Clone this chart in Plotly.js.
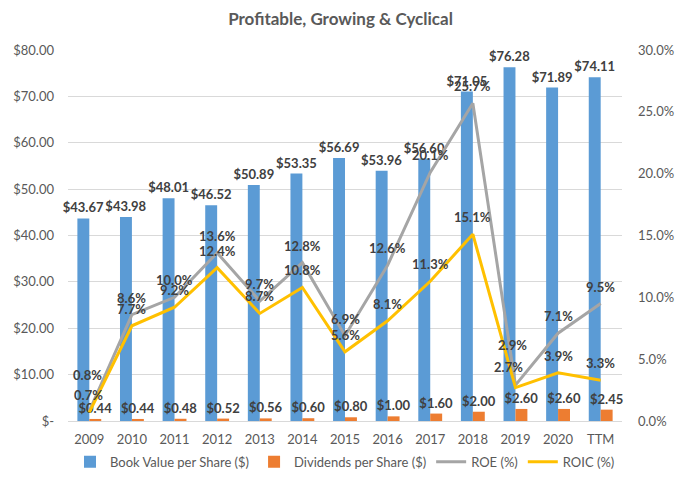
<!DOCTYPE html>
<html>
<head>
<meta charset="utf-8">
<script src="https://cdn.plot.ly/plotly-3.0.1.min.js"></script>
<style>html,body{margin:0;padding:0;background:#fff;}#chart{width:681px;height:492px;}</style>
</head>
<body>
<div id="chart"></div>
<script>
const categories = ['2009','2010','2011','2012','2013','2014','2015','2016','2017','2018','2019','2020','TTM'];
const bookValue = [43.67, 43.98, 48.01, 46.52, 50.89, 53.35, 56.69, 53.96, 56.60, 71.05, 76.28, 71.89, 74.11];
const dividends = [0.44, 0.44, 0.48, 0.52, 0.56, 0.60, 0.80, 1.00, 1.60, 2.00, 2.60, 2.60, 2.45];
const roe = [0.8, 8.6, 10.0, 13.6, 9.7, 12.8, 6.9, 12.6, 20.1, 25.7, 2.9, 7.1, 9.5];
const roic = [0.7, 7.7, 9.2, 12.4, 8.7, 10.8, 5.6, 8.1, 11.3, 15.1, 2.7, 3.9, 3.3];
const leftTicks = [0,10,20,30,40,50,60,70,80];
const leftTickText = ['$-','$10.00','$20.00','$30.00','$40.00','$50.00','$60.00','$70.00','$80.00'];
const rightTicks = [0,5,10,15,20,25,30];
const rightTickText = ['0.0%','5.0%','10.0%','15.0%','20.0%','25.0%','30.0%'];

// label placement offsets (pixels) for line data labels
const roeLabelDy = [36,17,17,17,17,17,17,17,17,17,40,17,17];
const roeLabelDx = [-2,0,0,0,0,0,0,0,0,0,-3,0,0];
const roicLabelDy = [17,17,17,17,17,17,17,17,17,17,21,17,17];
const roicLabelDx = [-1,0,0,0,0,0,0,0,0,0,-7,0,0];

const FONT = 'Lato, "Open Sans", sans-serif';
const labelFont = {family: FONT, size: 13, color: '#404040'};

const traces = [
  {type:'bar', name:'Book Value per Share ($)', x:categories, y:bookValue,
   marker:{color:'#5B9BD5'}, texttemplate:'<b>$%{y:.2f}</b>', textposition:'outside',
   constraintext:'none', cliponaxis:false, textfont:labelFont, hoverinfo:'skip'},
  {type:'bar', name:'Dividends per Share ($)', x:categories, y:dividends,
   marker:{color:'#ED7D31'}, texttemplate:'<b>$%{y:.2f}</b>', textposition:'outside',
   constraintext:'none', cliponaxis:false, textfont:labelFont, hoverinfo:'skip'},
  {type:'scatter', mode:'lines', name:'ROE (%)', x:categories, y:roe, yaxis:'y2',
   line:{color:'#A5A5A5', width:3}, cliponaxis:false, hoverinfo:'skip'},
  {type:'scatter', mode:'lines', name:'ROIC (%)', x:categories, y:roic, yaxis:'y2',
   line:{color:'#FFC000', width:3}, cliponaxis:false, hoverinfo:'skip'}
];

function lineLabels(vals, dy, dx) {
  return vals.map((v, i) => ({
    x: i, y: v, xref:'x', yref:'y2', showarrow:false,
    text:'<b>' + v.toFixed(1) + '%</b>', font: labelFont,
    xanchor:'center', yanchor:'middle', yshift: dy[i], xshift: dx[i]
  }));
}

const layout = {
  width:681, height:492,
  margin:{l:68, r:59, t:50, b:71},
  paper_bgcolor:'#fff', plot_bgcolor:'#fff',
  font:{family:FONT, color:'#595959', size:13},
  title:{text:'<b>Profitable, Growing &amp; Cyclical</b>', x:0.5, xanchor:'center', y:0.962, yanchor:'middle',
         font:{family:FONT, size:17, color:'#595959'}},
  barmode:'group', bargap:0.44, bargroupgap:0,
  showlegend:true,
  legend:{orientation:'h', x:0.5, xanchor:'center', y:-0.11, yanchor:'middle',
          font:{family:FONT, size:13, color:'#595959'}, traceorder:'normal'},
  xaxis:{type:'category', range:[-0.5, categories.length - 0.5], autorange:false, showgrid:false, showline:true, linecolor:'#D9D9D9', linewidth:1,
         ticks:'', ticklabelstandoff:6, tickfont:{family:FONT, size:13, color:'#595959'}},
  yaxis:{range:[0,80], tickvals:leftTicks, ticktext:leftTickText, showgrid:true, gridcolor:'#D9D9D9',
         zeroline:false, showline:false, ticks:'', ticklabelstandoff:13, tickfont:{family:FONT, size:13, color:'#595959'}},
  yaxis2:{range:[0,30], overlaying:'y', side:'right', tickvals:rightTicks, ticktext:rightTickText,
          showgrid:false, zeroline:false, showline:false, ticks:'', ticklabelstandoff:15, tickfont:{family:FONT, size:13, color:'#595959'}},
  annotations: lineLabels(roe, roeLabelDy, roeLabelDx).concat(lineLabels(roic, roicLabelDy, roicLabelDx))
};

Plotly.newPlot('chart', traces, layout, {displayModeBar:false, staticPlot:true});
</script>
</body>
</html>
